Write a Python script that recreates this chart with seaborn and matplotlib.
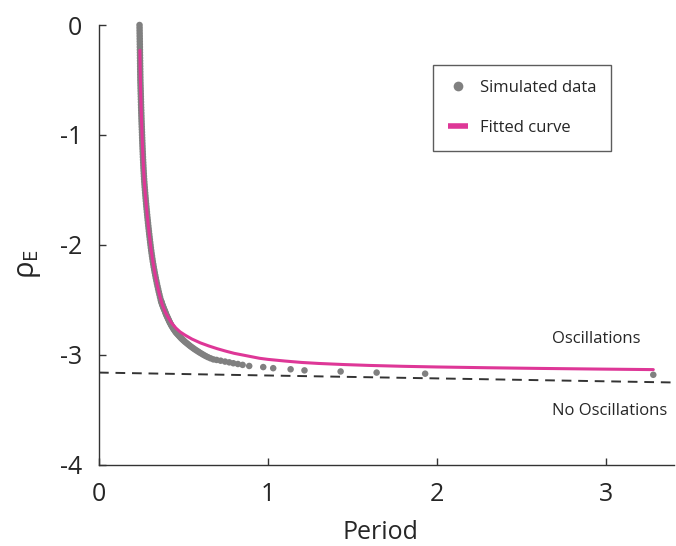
import matplotlib
matplotlib.use("Agg")
import matplotlib.pyplot as plt
import seaborn as sns
import pandas as pd
from matplotlib.lines import Line2D

# ---- data ----
# steep branch of the simulated data (rho_E step 0.025)
steep_rho = [0.000, -0.025, -0.050, -0.075, -0.100, -0.125, -0.150, -0.175, -0.200, -0.225,
             -0.250, -0.275, -0.300, -0.325, -0.350, -0.375, -0.400, -0.425, -0.450, -0.475,
             -0.500, -0.525, -0.550, -0.575, -0.600, -0.625, -0.650, -0.675, -0.700, -0.725,
             -0.750, -0.775, -0.800, -0.825, -0.850, -0.875, -0.900, -0.925, -0.950, -0.975,
             -1.000, -1.025, -1.050, -1.075, -1.100, -1.125, -1.150, -1.175, -1.200, -1.225,
             -1.250, -1.275, -1.300, -1.325, -1.350, -1.375, -1.400, -1.425, -1.450, -1.475,
             -1.500, -1.525, -1.550, -1.575, -1.600, -1.625, -1.650, -1.675, -1.700, -1.725,
             -1.750, -1.775, -1.800, -1.825, -1.850, -1.875, -1.900, -1.925, -1.950, -1.975,
             -2.000, -2.025, -2.050, -2.075, -2.100, -2.125, -2.150, -2.175, -2.200, -2.225,
             -2.250, -2.275, -2.300, -2.325, -2.350, -2.375, -2.400, -2.425, -2.450, -2.475,
             -2.500]
steep_period = [0.2400, 0.2403, 0.2405, 0.2408, 0.2410, 0.2413, 0.2415, 0.2418, 0.2420, 0.2423,
                0.2425, 0.2428, 0.2430, 0.2433, 0.2435, 0.2438, 0.2440, 0.2443, 0.2445, 0.2448,
                0.2450, 0.2454, 0.2459, 0.2463, 0.2468, 0.2472, 0.2477, 0.2481, 0.2486, 0.2490,
                0.2495, 0.2500, 0.2505, 0.2510, 0.2515, 0.2520, 0.2526, 0.2532, 0.2538, 0.2544,
                0.2550, 0.2556, 0.2562, 0.2568, 0.2574, 0.2581, 0.2588, 0.2595, 0.2602, 0.2610,
                0.2618, 0.2626, 0.2634, 0.2643, 0.2652, 0.2661, 0.2671, 0.2682, 0.2694, 0.2706,
                0.2720, 0.2733, 0.2747, 0.2761, 0.2775, 0.2790, 0.2805, 0.2820, 0.2836, 0.2852,
                0.2868, 0.2885, 0.2902, 0.2919, 0.2937, 0.2955, 0.2973, 0.2992, 0.3011, 0.3030,
                0.3050, 0.3070, 0.3091, 0.3113, 0.3137, 0.3161, 0.3186, 0.3213, 0.3240, 0.3269,
                0.3299, 0.3330, 0.3362, 0.3395, 0.3429, 0.3464, 0.3500, 0.3537, 0.3576, 0.3615,
                0.3656]

# knee of the simulated data (rho_E step 0.01)
knee_rho = [-2.51, -2.52, -2.53, -2.54, -2.55, -2.56, -2.57, -2.58, -2.59, -2.60,
            -2.61, -2.62, -2.63, -2.64, -2.65, -2.66, -2.67, -2.68, -2.69, -2.70,
            -2.71, -2.72, -2.73, -2.74, -2.75, -2.76, -2.77, -2.78, -2.79, -2.80,
            -2.81, -2.82, -2.83, -2.84, -2.85, -2.86, -2.87, -2.88, -2.89, -2.90,
            -2.91, -2.92, -2.93, -2.94, -2.95, -2.96, -2.97, -2.98, -2.99, -3.00,
            -3.01, -3.02, -3.03, -3.04]
knee_period = [0.368, 0.370, 0.372, 0.374, 0.377, 0.379, 0.382, 0.384, 0.387, 0.390,
               0.392, 0.395, 0.397, 0.400, 0.403, 0.406, 0.409, 0.412, 0.415, 0.418,
               0.421, 0.425, 0.428, 0.432, 0.436, 0.440, 0.444, 0.449, 0.453, 0.458,
               0.464, 0.470, 0.476, 0.482, 0.488, 0.495, 0.502, 0.509, 0.517, 0.525,
               0.533, 0.541, 0.550, 0.559, 0.568, 0.578, 0.588, 0.598, 0.609, 0.620,
               0.632, 0.645, 0.660, 0.677]

# sparse tail of the simulated data
tail_rho = [-3.045, -3.052, -3.060, -3.067, -3.075, -3.082, -3.090, -3.100, -3.110, -3.120,
            -3.130, -3.140, -3.150, -3.160, -3.170, -3.180]
tail_period = [0.696, 0.720, 0.746, 0.771, 0.795, 0.822, 0.850, 0.889, 0.972, 1.031,
               1.134, 1.216, 1.430, 1.643, 1.930, 3.280]

# fitted curve
fit_period = [0.2422, 0.2440, 0.2459, 0.2486, 0.2515, 0.2550, 0.2588, 0.2634, 0.2694, 0.2775,
              0.2868, 0.2973, 0.3074, 0.3186, 0.3324, 0.3458, 0.3592, 0.3740, 0.3920, 0.410,
              0.430, 0.455, 0.480, 0.510, 0.550, 0.600, 0.650, 0.700, 0.750, 0.800,
              0.850, 0.900, 0.950, 1.000, 1.100, 1.200, 1.300, 1.450, 1.600, 1.800,
              2.000, 2.300, 2.600, 2.950, 3.280]
fit_rho = [-0.23, -0.40, -0.55, -0.70, -0.85, -1.00, -1.15, -1.30, -1.45, -1.60,
           -1.75, -1.90, -2.03, -2.15, -2.27, -2.37, -2.46, -2.54, -2.61, -2.66,
           -2.71, -2.755, -2.79, -2.82, -2.855, -2.89, -2.918, -2.943, -2.965, -2.985,
           -3.00, -3.015, -3.03, -3.04, -3.055, -3.068, -3.077, -3.087, -3.095, -3.103,
           -3.109, -3.116, -3.122, -3.128, -3.133]

# oscillation boundary (dashed)
boundary_period = [0.0, 3.4]
boundary_rho = [-3.16, -3.25]

x_ticks = [0, 1, 2, 3]
y_ticks = [0, -1, -2, -3, -4]

sim_df = pd.DataFrame({"Period": steep_period + knee_period + tail_period,
                       "rho": steep_rho + knee_rho + tail_rho})
fit_df = pd.DataFrame({"Period": fit_period, "rho": fit_rho})
bnd_df = pd.DataFrame({"Period": boundary_period, "rho": boundary_rho})

sns.set_style("ticks")
plt.rcParams["font.family"] = ["Open Sans", "DejaVu Sans"]
plt.rcParams["axes.unicode_minus"] = False
plt.rcParams["mathtext.fontset"] = "custom"
plt.rcParams["mathtext.rm"] = "Open Sans"
plt.rcParams["mathtext.it"] = "Open Sans"

GRAY = "#808080"
PINK = "#DE3797"

fig = plt.figure(figsize=(6.76, 5.46), dpi=100)
ax = fig.add_axes([0.1464, 0.1484, 0.85, 0.8058])

sns.lineplot(data=bnd_df, x="Period", y="rho", ax=ax, color="#333333",
             linewidth=1.4, linestyle=(0, (5, 3.5)), zorder=1)
sns.scatterplot(data=sim_df, x="Period", y="rho", ax=ax, color=GRAY, s=22,
                edgecolor="none", linewidth=0, zorder=2, clip_on=False)
sns.lineplot(data=fit_df, x="Period", y="rho", ax=ax, color=PINK, linewidth=2.2,
             sort=False, zorder=3)

ax.set_xlim(0, 3.4)
ax.set_ylim(-4, 0)
ax.set_xticks(x_ticks)
ax.set_xticklabels([str(t) for t in x_ticks])
ax.set_yticks(y_ticks)
ax.set_yticklabels([str(t) for t in y_ticks])
ax.tick_params(direction="in", length=5, width=1, labelsize=18, color="#333333")
ax.tick_params(axis="x", pad=12)
ax.tick_params(axis="y", pad=12)
for s in ["top", "right"]:
    ax.spines[s].set_visible(False)
for s in ["left", "bottom"]:
    ax.spines[s].set_linewidth(1.0)
    ax.spines[s].set_color("#333333")

ax.set_xlabel("Period", fontsize=18)
ax.xaxis.set_label_coords(0.489, -0.124)
ax.set_ylabel(r"ρ$_{\mathrm{E}}$", fontsize=21)
ax.yaxis.set_label_coords(-0.098, 0.457)

ax.text(2.94, -2.855, "Oscillations", fontsize=12, ha="center", va="center")
ax.text(3.02, -3.51, "No Oscillations", fontsize=12, ha="center", va="center")

handles = [
    Line2D([], [], marker="o", linestyle="none", color=GRAY, markersize=7,
           markeredgewidth=0),
    Line2D([], [], color=PINK, linewidth=4, solid_capstyle="butt"),
]
leg = ax.legend(handles, ["Simulated data", "Fitted curve"], loc="upper left",
                bbox_to_anchor=(0.581, 0.909), borderaxespad=0, fontsize=12,
                frameon=True, fancybox=False, edgecolor="#333333",
                labelspacing=1.45, handlelength=1.2, handletextpad=0.72,
                borderpad=0.9)
leg.get_frame().set_linewidth(1.0)
ax.set_facecolor("white")
fig.patch.set_facecolor("white")

fig.savefig("out.png", dpi=100)
